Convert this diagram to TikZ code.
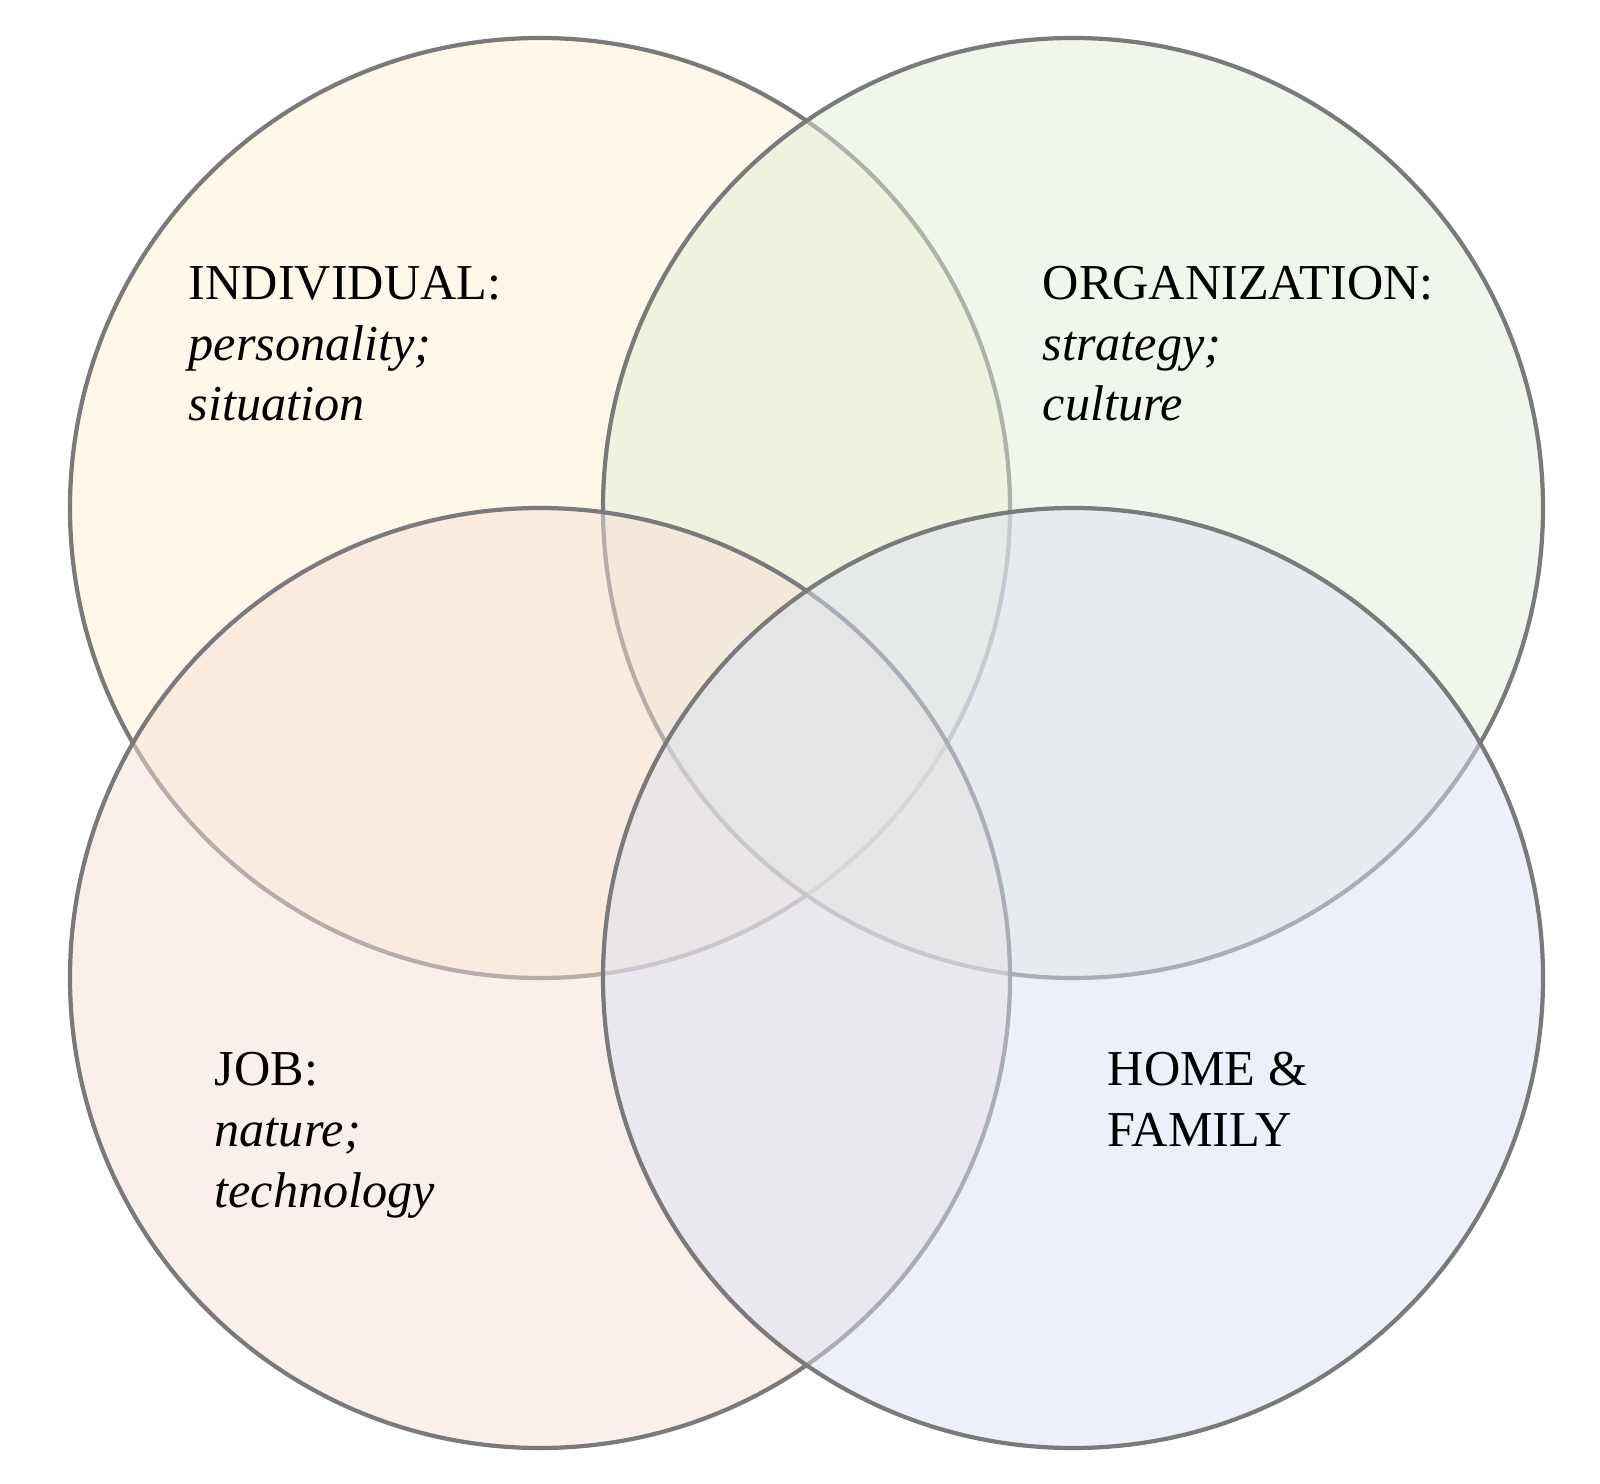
\documentclass[tikz,border=0pt]{standalone}
\usepackage{fontspec}
\setmainfont{Liberation Serif}
\usetikzlibrary{positioning}
\definecolor{ringgray}{RGB}{122,122,122}
\definecolor{indfill}{RGB}{253,241,209}
\definecolor{orgfill}{RGB}{227,237,217}
\definecolor{jobfill}{RGB}{245,225,215}
\definecolor{homefill}{RGB}{219,225,241}
\tikzstyle{ring} = [circle, draw=ringgray, line width=1.2pt, minimum size=9.4cm, inner sep=0pt, fill opacity=0.5]
\tikzstyle{areatext} = [anchor=base west, align=left, inner sep=0pt, font=\fontsize{14.3pt}{17.3pt}\selectfont]

\begin{document}
\begin{tikzpicture}[node distance=5.33cm]
    \useasboundingbox (0,0) rectangle (16,14.83);
    % the four rings, later ones laid over earlier ones
    \node[ring, fill=indfill] (ind) at (5.40,9.75) {};
    \node[ring, fill=orgfill, right of=ind] (org) {};
    \node[ring, fill=jobfill, below of=ind, node distance=4.7cm] (job) {};
    \node[ring, fill=homefill, right of=job] (home) {};
    % texts (placed at the baseline of their last line)
    \node[areatext] (indtext) at (1.88,10.62) {INDIVIDUAL:\\\textit{personality;}\\\textit{situation}};
    \node[areatext] (orgtext) at (10.42,10.62) {ORGANIZATION:\\\textit{strategy;}\\\textit{culture}};
    \node[areatext] (jobtext) at (2.14,2.76) {JOB:\\\textit{nature;}\\\textit{technology}};
    \node[areatext] (hometext) at (11.07,3.37) {HOME \&\\FAMILY};
\end{tikzpicture}
\end{document}
